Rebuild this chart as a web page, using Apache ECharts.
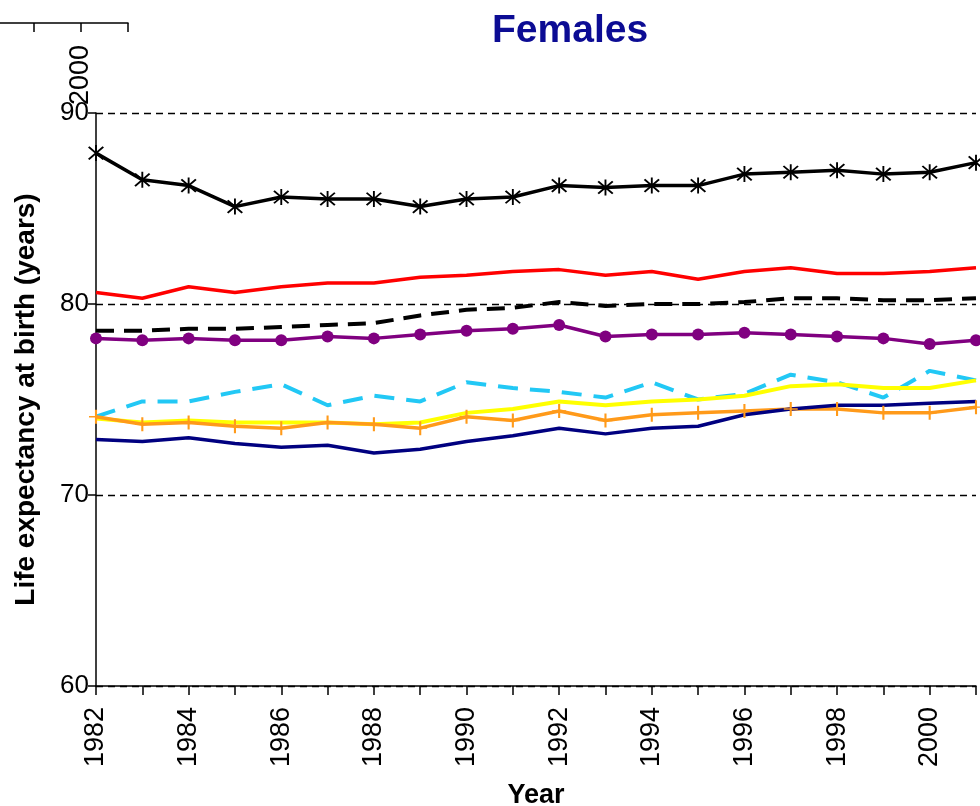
<!DOCTYPE html>
<html>
<head>
<meta charset="utf-8"/>
<title>Females</title>
<script src="https://cdn.jsdelivr.net/npm/echarts/dist/echarts.min.js"></script>
<style>
  html, body { margin: 0; padding: 0; background: #fff; }
  #main { width: 980px; height: 806px; }
</style>
</head>
<body>
<div id="main"></div>
<script>
// years on the x axis
var years = ['1982','1983','1984','1985','1986','1987','1988','1989','1990','1991',
             '1992','1993','1994','1995','1996','1997','1998','1999','2000','2001'];

// life expectancy values
var starLine   = [87.9, 86.5, 86.2, 85.1, 85.6, 85.5, 85.5, 85.1, 85.5, 85.6, 86.2, 86.1, 86.2, 86.2, 86.8, 86.9, 87.0, 86.8, 86.9, 87.4];
var redLine    = [80.6, 80.3, 80.9, 80.6, 80.9, 81.1, 81.1, 81.4, 81.5, 81.7, 81.8, 81.5, 81.7, 81.3, 81.7, 81.9, 81.6, 81.6, 81.7, 81.9];
var dashLine   = [78.6, 78.6, 78.7, 78.7, 78.8, 78.9, 79.0, 79.4, 79.7, 79.8, 80.1, 79.9, 80.0, 80.0, 80.1, 80.3, 80.3, 80.2, 80.2, 80.3];
var purpleLine = [78.2, 78.1, 78.2, 78.1, 78.1, 78.3, 78.2, 78.4, 78.6, 78.7, 78.9, 78.3, 78.4, 78.4, 78.5, 78.4, 78.3, 78.2, 77.9, 78.1];
var cyanLine   = [74.1, 74.9, 74.9, 75.4, 75.8, 74.7, 75.2, 74.9, 75.9, 75.6, 75.4, 75.1, 75.9, 75.0, 75.3, 76.3, 75.9, 75.1, 76.5, 76.0];
var yellowLine = [74.0, 73.8, 73.9, 73.8, 73.8, 73.8, 73.7, 73.8, 74.3, 74.5, 74.9, 74.7, 74.9, 75.0, 75.2, 75.7, 75.8, 75.6, 75.6, 76.0];
var orangeLine = [74.1, 73.7, 73.8, 73.6, 73.5, 73.8, 73.7, 73.5, 74.1, 73.9, 74.4, 73.9, 74.2, 74.3, 74.4, 74.5, 74.5, 74.3, 74.3, 74.6];
var navyLine   = [72.9, 72.8, 73.0, 72.7, 72.5, 72.6, 72.2, 72.4, 72.8, 73.1, 73.5, 73.2, 73.5, 73.6, 74.2, 74.5, 74.7, 74.7, 74.8, 74.9];

// y ticks
var yMin = 60, yMax = 90, yStep = 10;

// marker shapes
var asterisk = 'path://M9,0L11,0L11,20L9,20Z M1.5,3L3,1.5L18.5,17L17,18.5Z M17,1.5L18.5,3L3,18.5L1.5,17Z';
var plus = 'path://M8.5,0L11.5,0L11.5,20L8.5,20Z M0,9L20,9L20,11L0,11Z';

var font = 'Liberation Sans, Arial, sans-serif';

var myChart = echarts.init(document.getElementById('main'));

function line(name, data, color, width, extra) {
    var s = {
        name: name,
        type: 'line',
        data: data,
        xAxisIndex: 0,
        yAxisIndex: 0,
        symbol: 'none',
        lineStyle: { color: color, width: width },
        itemStyle: { color: color }
    };
    for (var k in extra) s[k] = extra[k];
    return s;
}

var option = {
    animation: false,
    title: {
        text: 'Females',
        left: 487,
        top: 7,
        textStyle: { color: '#0c0c94', fontSize: 39, fontWeight: 'bold', fontFamily: font }
    },
    grid: [
        { left: 96, right: 4, top: 113, bottom: 120, outerBoundsMode: 'none' },
        // fragment of the neighbouring chart's axis in the top-left corner
        { left: -14, width: 142, top: 22, height: 1, outerBoundsMode: 'none' }
    ],
    xAxis: [{
        type: 'category',
        data: years,
        boundaryGap: false,
        name: 'Year',
        nameLocation: 'middle',
        nameGap: 96,
        nameTextStyle: { color: '#000', fontSize: 27, fontWeight: 'bold', fontFamily: font },
        axisLine: { lineStyle: { color: '#000', width: 1.5 } },
        axisTick: { interval: 0, length: 9, lineStyle: { color: '#000', width: 1.5 } },
        axisLabel: { interval: 1, rotate: 90, margin: 21, color: '#000', fontSize: 27, fontFamily: font },
        splitLine: { show: false }
    }, {
        type: 'value',
        gridIndex: 1,
        min: 1996, max: 2002, interval: 2,
        axisLine: { lineStyle: { color: '#000', width: 1.5 } },
        axisTick: { length: 9, lineStyle: { color: '#000', width: 1.5 } },
        axisLabel: {
            rotate: 90, margin: 22, color: '#000', fontSize: 27, fontFamily: font,
            formatter: function (v) { return v === 2000 ? '2000' : ''; }
        },
        splitLine: { show: false }
    }],
    yAxis: [{
        type: 'value',
        min: yMin, max: yMax, interval: yStep,
        name: 'Life expectancy at birth (years)',
        nameLocation: 'middle',
        nameGap: 56,
        nameTextStyle: { color: '#000', fontSize: 28, fontWeight: 'bold', fontFamily: font },
        axisLine: { show: true, lineStyle: { color: '#000', width: 1.5 } },
        axisTick: { show: true, length: 8, lineStyle: { color: '#000', width: 1.5 } },
        axisLabel: { margin: 7, color: '#000', fontSize: 26, fontFamily: font },
        splitLine: { show: true, lineStyle: { color: '#000', width: 1.3, type: [7, 5] } }
    }, {
        type: 'value',
        gridIndex: 1,
        show: false
    }],
    series: [
        line('star', starLine, '#000000', 3.5, { symbol: asterisk, symbolSize: 16, showSymbol: true }),
        line('red', redLine, '#ff0000', 3.5),
        line('dashed', dashLine, '#000000', 4, { lineStyle: { color: '#000', width: 4, type: [18, 10] } }),
        line('purple', purpleLine, '#800080', 3.5, { symbol: 'circle', symbolSize: 12, showSymbol: true }),
        line('cyan', cyanLine, '#22c8f5', 4, { lineStyle: { color: '#22c8f5', width: 4, type: [20, 12] } }),
        line('yellow', yellowLine, '#ffff00', 4),
        line('orange', orangeLine, '#ff9a1a', 3.5, { symbol: plus, symbolSize: 14, showSymbol: true }),
        line('navy', navyLine, '#000080', 3.5)
    ]
};

myChart.setOption(option);
</script>
</body>
</html>
